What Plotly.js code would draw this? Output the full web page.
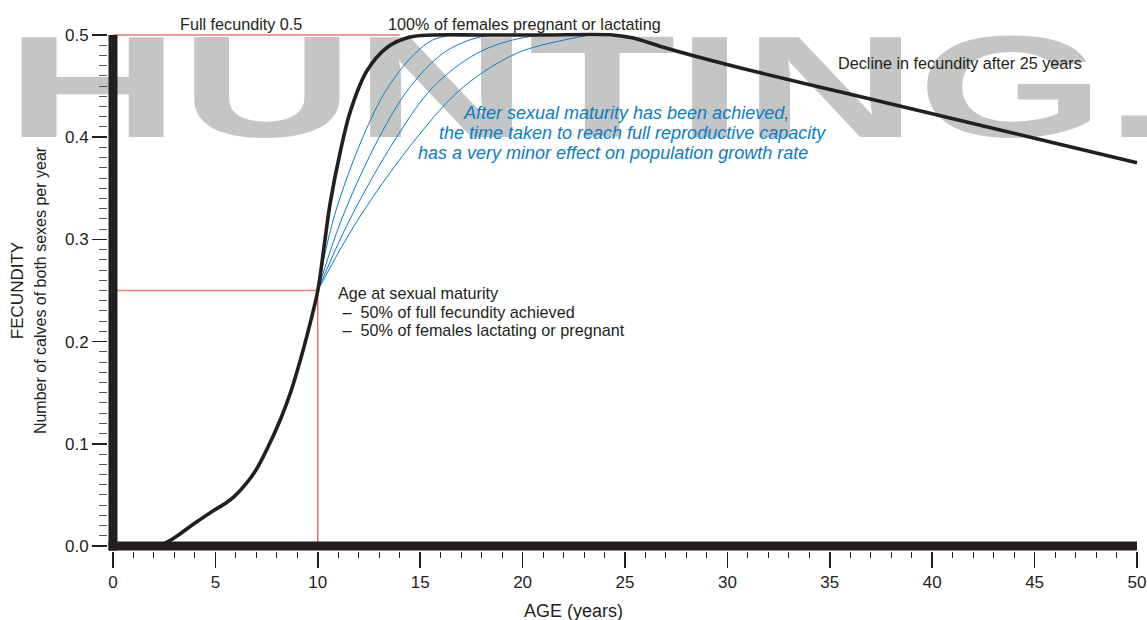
<!DOCTYPE html>
<html><head><meta charset="utf-8">
<script src="https://cdn.plot.ly/plotly-3.0.1.min.js"></script>
<style>html,body{margin:0;padding:0;background:#fff;} #chart{width:1147px;height:620px;}</style>
</head><body><div id="chart"></div>
<script>
// ---------------- data ----------------
// main fecundity curve (age in years, calves of both sexes per year)
const ageFecundity = [2.3, 3.0, 3.9, 4.9, 5.5, 5.9, 6.5, 7.0, 7.5, 8.2, 8.7, 9.15, 9.5, 10.0, 10.3, 10.6, 11.1, 11.6, 12.4, 13.4, 14.5, 15.6, 18, 21, 24.4, 25.4, 26.7, 28.3, 31.6, 35.8, 40, 45, 50];
const fecundity    = [0, 0.008, 0.021, 0.0345, 0.0418, 0.048, 0.061, 0.075, 0.094, 0.125, 0.152, 0.182, 0.208, 0.25, 0.292, 0.335, 0.386, 0.426, 0.465, 0.488, 0.498, 0.5, 0.5, 0.5, 0.5, 0.497, 0.489, 0.48, 0.463, 0.443, 0.423, 0.399, 0.375];

// slower approaches to full reproductive capacity after maturity
const rampFecundity = [0.25, 0.319, 0.40, 0.449, 0.482, 0.495, 0.5];
const rampAge1 = [10, 10.75, 12.2, 13.43, 14.75, 15.6, 16.6];
const rampAge2 = [10, 11.15, 13.0, 14.5, 16.1, 17.4, 18.4];
const rampAge3 = [10, 11.55, 13.85, 15.63, 17.76, 19.5, 20.9];
const rampAge4 = [10, 11.95, 14.85, 17.1, 19.7, 22.0, 23.3];

// reference values
const fullFecundity = 0.5;
const fullLineEndAge = 14;
const ageAtMaturity = 10;
const halfFecundity = 0.25;

// axes
const xTickVals = [0, 5, 10, 15, 20, 25, 30, 35, 40, 45, 50];
const yTickVals = [0, 0.1, 0.2, 0.3, 0.4, 0.5];
const yTickText = ['0.0', '0.1', '0.2', '0.3', '0.4', '0.5'];
const yMidTickVals = [0.05, 0.15, 0.25, 0.35, 0.45];

// ---------------- style / layout ----------------
const INK = '#231f20';
const BLUE = '#0b7dc1';
const FONT = 'Liberation Sans, Arial, Helvetica, sans-serif';
const W = 1147, H = 620;
const M = {l: 108, r: 5, t: 30, b: 69};
const plotW = W - M.l - M.r, plotH = H - M.t - M.b;
const PAD = 5; // px of padding around data area
const xRange = [-PAD * 50 / (plotW - 2 * PAD), 50 + PAD * 50 / (plotW - 2 * PAD)];
const pxPerX = plotW / (xRange[1] - xRange[0]);
const yPadTop = 5, yPadBot = 5;
const pxPerY = (plotH - yPadTop - yPadBot) / 0.5;
const yRange = [-yPadBot / pxPerY, 0.5 + yPadTop / pxPerY];
const BAR = 9;

function px2x(px) { return xRange[0] + (px - M.l) / pxPerX; }
function py2y(py) { return yRange[0] + (M.t + plotH - py) / pxPerY; }
function pxp(px) { return (px - M.l) / plotW; }
function pyp(py) { return (M.t + plotH - py) / plotH; }

// watermark (background text), stretched horizontally after drawing
const WM_SIZE = 145, WM_STRETCH = 1.665, WM_CENTER_PX = 837;
const watermark = {
  x: [px2x(WM_CENTER_PX)], y: [py2y(137 - 0.25 * WM_SIZE)],
  mode: 'text', text: ['HUNTING.com'], textposition: 'middle center',
  textfont: {family: FONT, size: WM_SIZE, color: '#c4c6c5', weight: 'bold'},
  cliponaxis: false, hoverinfo: 'skip', showlegend: false
};

const redFull = {x: [0, fullLineEndAge], y: [fullFecundity, fullFecundity], mode: 'lines',
  line: {color: '#e2322b', width: 1}, showlegend: false, hoverinfo: 'skip'};
const redHalfH = {x: [0, ageAtMaturity], y: [halfFecundity, halfFecundity], mode: 'lines',
  line: {color: '#ef7b78', width: 1.6}, showlegend: false, hoverinfo: 'skip'};
const redHalfV = {x: [ageAtMaturity, ageAtMaturity], y: [0, halfFecundity], mode: 'lines',
  line: {color: '#d92a2e', width: 1}, showlegend: false, hoverinfo: 'skip'};

function ramp(ages) {
  return {x: ages, y: rampFecundity, mode: 'lines',
    line: {color: BLUE, width: 1, shape: 'spline', smoothing: 1}, showlegend: false, hoverinfo: 'skip'};
}

const main = {x: ageFecundity, y: fecundity, mode: 'lines',
  line: {color: INK, width: 3.6, shape: 'spline', smoothing: 1}, showlegend: false, hoverinfo: 'skip'};

const data = [watermark, redFull, redHalfH, redHalfV,
  ramp(rampAge1), ramp(rampAge2), ramp(rampAge3), ramp(rampAge4), main];

const TS = 16.2;
const txt = (s, x, y, opts) => Object.assign({
  text: s, xref: 'paper', yref: 'paper', x: pxp(x), y: pyp(y), xanchor: 'left', yanchor: 'middle',
  showarrow: false, font: {family: FONT, size: TS, color: INK}, align: 'left'
}, opts || {});
const blueFont = {family: FONT, size: 18, color: BLUE, style: 'italic'};

const NB = '\u00a0';
const annotations = [
  txt('Full fecundity 0.5', 241, 24, {xanchor: 'center'}),
  txt('100% of females pregnant or lactating', 386, 24),
  txt('Decline in fecundity after 25 years', 836, 63),
  txt('Age at sexual maturity', 336, 293),
  txt(NB + '–' + NB + NB + '50% of full fecundity achieved', 336, 311.5),
  txt(NB + '–' + NB + NB + '50% of females lactating or pregnant', 336, 330),
  txt('After sexual maturity has been achieved,', 461, 113, {font: blueFont}),
  txt('the time taken to reach full reproductive capacity', 437, 133, {font: blueFont}),
  txt('has a very minor effect on population growth rate', 416, 153, {font: blueFont}),
  txt('AGE (years)', 573, 611, {xanchor: 'center', font: {family: FONT, size: 18, color: INK}})
];

const shapes = [
  {type: 'line', xref: 'x', yref: 'y', x0: 0, x1: 0, y0: -BAR / 2 / pxPerY, y1: 0.5, line: {color: INK, width: BAR}},
  {type: 'line', xref: 'x', yref: 'y', x0: -BAR / 2 / pxPerX, x1: 50, y0: 0, y1: 0, line: {color: INK, width: BAR}}
];

const layout = {
  width: W, height: H, margin: M,
  paper_bgcolor: '#ffffff', plot_bgcolor: 'rgba(0,0,0,0)',
  font: {family: FONT, color: INK},
  showlegend: false,
  xaxis: {
    range: xRange, tickvals: xTickVals, ticks: 'outside', ticklen: 16, tickwidth: 1.5, tickcolor: INK,
    showgrid: false, zeroline: false, showline: false,
    tickfont: {family: FONT, size: 17, color: INK},
    minor: {dtick: 1, tick0: 0, ticks: 'outside', ticklen: 6, tickwidth: 1, tickcolor: INK, showgrid: false}
  },
  yaxis: {
    range: yRange, tickvals: yTickVals, ticktext: yTickText, ticks: 'outside', ticklen: 15, tickwidth: 1.5, tickcolor: INK,
    showgrid: false, zeroline: false, showline: false,
    tickfont: {family: FONT, size: 17, color: INK},
    minor: {dtick: 0.01, tick0: 0, ticks: 'outside', ticklen: 8, tickwidth: 1, tickcolor: '#555', showgrid: false},
    title: {text: 'FECUNDITY<br><span style="font-size:16px">Number of calves of both sexes per year</span>',
      font: {family: FONT, size: 17, color: INK}, standoff: 14}
  },
  yaxis2: {
    overlaying: 'y', side: 'left', anchor: 'x', range: yRange, tickvals: yMidTickVals,
    ticks: 'outside', ticklen: 11, tickwidth: 1, tickcolor: '#555',
    showticklabels: false, showgrid: false, zeroline: false, showline: false
  },
  annotations: annotations,
  shapes: shapes
};

const gd = document.getElementById('chart');
Plotly.newPlot(gd, data, layout, {staticPlot: true, displayModeBar: false}).then(function () {
  const t = gd.querySelector('.textpoint text');
  if (t) {
    const cx = parseFloat(t.getAttribute('x')) || 0;
    t.setAttribute('transform', 'translate(' + cx + ',0) scale(' + WM_STRETCH + ',1) translate(' + (-cx) + ',0)');
  }
});
</script></body></html>
